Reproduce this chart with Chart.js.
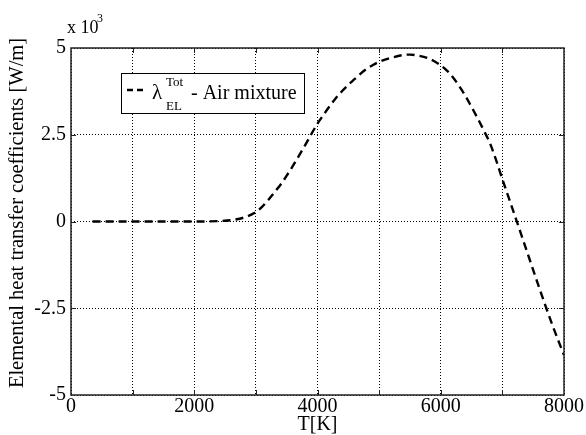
<!DOCTYPE html>
<html>
<head>
<meta charset="utf-8">
<script src="https://cdn.jsdelivr.net/npm/chart.js@4.4.0/dist/chart.umd.min.js"></script>
<style>
html,body{margin:0;padding:0;background:#fff;}
#wrap{width:586px;height:435px;position:relative;}
</style>
</head>
<body>
<div id="wrap"><canvas id="c" width="586" height="435"></canvas></div>
<script>
// Temperature [K]
const temperatures = [350, 500, 1000, 1500, 2000, 2200, 2400, 2600, 2800, 3000, 3100, 3200, 3300, 3400, 3500, 3600, 3700, 3800, 3900, 4000, 4100, 4200, 4300, 4400, 4500, 4600, 4700, 4800, 4900, 5000, 5200, 5400, 5500, 5600, 5800, 6000, 6100, 6200, 6300, 6400, 6500, 6600, 6700, 6800, 6900, 7000, 7100, 7200, 7400, 7600, 7800, 8000];
// Elemental heat transfer coefficient (x 10^3 W/m)
const lambdaTotEL = [0, 0, 0, 0, 0, 0.003, 0.012, 0.04, 0.11, 0.27, 0.42, 0.62, 0.84, 1.06, 1.32, 1.6, 1.9, 2.2, 2.52, 2.82, 3.08, 3.33, 3.56, 3.76, 3.94, 4.1, 4.26, 4.4, 4.51, 4.6, 4.72, 4.8, 4.81, 4.79, 4.7, 4.5, 4.35, 4.15, 3.9, 3.62, 3.3, 2.97, 2.62, 2.25, 1.76, 1.22, 0.7, 0.18, -0.87, -1.92, -2.93, -3.85];
const xTickLabels = ['0', '2000', '4000', '6000', '8000'];
const yTickLabels = ['-5', '-2.5', '0', '2.5', '5'];
const seriesLabel = 'λ EL Tot - Air mixture';
const xTitle = 'T[K]';
const yTitle = 'Elemental heat transfer coefficients [W/m]';

const SERIF = '"Liberation Serif", "DejaVu Serif", serif';

const points = temperatures.map((t, i) => ({x: t, y: lambdaTotEL[i]}));

const decor = {
  id: 'decor',
  afterDraw(chart) {
    const ctx = chart.ctx;
    const a = chart.chartArea;
    const xs = chart.scales.x, ys = chart.scales.y;
    ctx.save();
    // inner tick marks
    ctx.strokeStyle = '#222';
    ctx.lineWidth = 1;
    ctx.setLineDash([]);
    for (let v = 1000; v < 8000; v += 1000) {
      const px = Math.round(xs.getPixelForValue(v)) + 0.5;
      ctx.beginPath();
      ctx.moveTo(px, a.top); ctx.lineTo(px, a.top + 5);
      ctx.moveTo(px, a.bottom); ctx.lineTo(px, a.bottom - 5);
      ctx.stroke();
    }
    for (let v = -2.5; v < 5; v += 2.5) {
      const py = Math.round(ys.getPixelForValue(v)) + 0.5;
      ctx.beginPath();
      ctx.moveTo(a.left, py); ctx.lineTo(a.left + 5, py);
      ctx.moveTo(a.right, py); ctx.lineTo(a.right - 5, py);
      ctx.stroke();
    }
    // frame
    ctx.lineWidth = 1.5;
    ctx.strokeRect(a.left, a.top, a.right - a.left, a.bottom - a.top);

    ctx.fillStyle = '#000';
    // x title
    ctx.font = '20px ' + SERIF;
    ctx.textAlign = 'center';
    ctx.textBaseline = 'middle';
    ctx.fillText(xTitle, (a.left + a.right) / 2, 425);
    // y title
    ctx.save();
    ctx.translate(18, 213);
    ctx.rotate(-Math.PI / 2);
    ctx.font = '20.5px ' + SERIF;
    ctx.fillText(yTitle, 0, 0);
    ctx.restore();
    // exponent
    ctx.textAlign = 'left';
    ctx.textBaseline = 'alphabetic';
    ctx.font = '18px ' + SERIF;
    ctx.fillText('x 10', 67, 33);
    ctx.font = '12px ' + SERIF;
    ctx.fillText('3', 97, 22);

    // legend box
    const lx = 121, ly = 73, lw = 183, lh = 40;
    ctx.fillStyle = '#fff';
    ctx.fillRect(lx, ly, lw, lh);
    ctx.strokeStyle = '#000';
    ctx.lineWidth = 1;
    ctx.strokeRect(lx + 0.5, ly + 0.5, lw, lh);
    ctx.lineWidth = 2.4;
    ctx.setLineDash([6, 4]);
    ctx.beginPath();
    ctx.moveTo(127, 90); ctx.lineTo(144, 90);
    ctx.stroke();
    ctx.setLineDash([]);
    ctx.fillStyle = '#000';
    ctx.font = '21px ' + SERIF;
    ctx.fillText('λ', 152, 99);
    ctx.font = '13px ' + SERIF;
    ctx.fillText('Tot', 166, 86);
    ctx.fillText('EL', 166, 110);
    ctx.font = '20px ' + SERIF;
    ctx.fillText('- Air mixture', 191, 99);
    ctx.restore();
  }
};

new Chart(document.getElementById('c'), {
  type: 'line',
  data: {
    datasets: [{
      label: seriesLabel,
      data: points,
      borderColor: '#000',
      borderWidth: 2.4,
      borderDash: [8, 5],
      pointRadius: 0,
      fill: false,
      cubicInterpolationMode: 'monotone'
    }]
  },
  options: {
    responsive: false,
    animation: false,
    devicePixelRatio: 1,
    layout: {padding: {top: 48, right: 22, left: 0, bottom: 0}},
    plugins: {legend: {display: false}, tooltip: {enabled: false}},
    scales: {
      x: {
        type: 'linear', min: 0, max: 8000,
        afterFit(s) { s.height = 40; s.paddingLeft = 0; s.paddingRight = 0; },
        ticks: {
          stepSize: 1000, autoSkip: false, maxRotation: 0, padding: 0,
          color: '#000', font: {family: SERIF, size: 20},
          callback(v) { const i = xTickLabels.indexOf(String(v)); return i >= 0 ? xTickLabels[i] : ''; }
        },
        grid: {color: '#000', lineWidth: 1, drawTicks: false},
        border: {display: false, dash: [1, 2]}
      },
      y: {
        type: 'linear', min: -5, max: 5,
        afterFit(s) { s.width = 71; s.paddingTop = 0; s.paddingBottom = 0; },
        ticks: {
          stepSize: 2.5, padding: 5,
          color: '#000', font: {family: SERIF, size: 20},
          callback(v) { const i = yTickLabels.indexOf(String(v)); return i >= 0 ? yTickLabels[i] : ''; }
        },
        grid: {color: '#000', lineWidth: 1, drawTicks: false},
        border: {display: false, dash: [1, 2]}
      }
    }
  },
  plugins: [decor]
});
</script>
</body>
</html>
